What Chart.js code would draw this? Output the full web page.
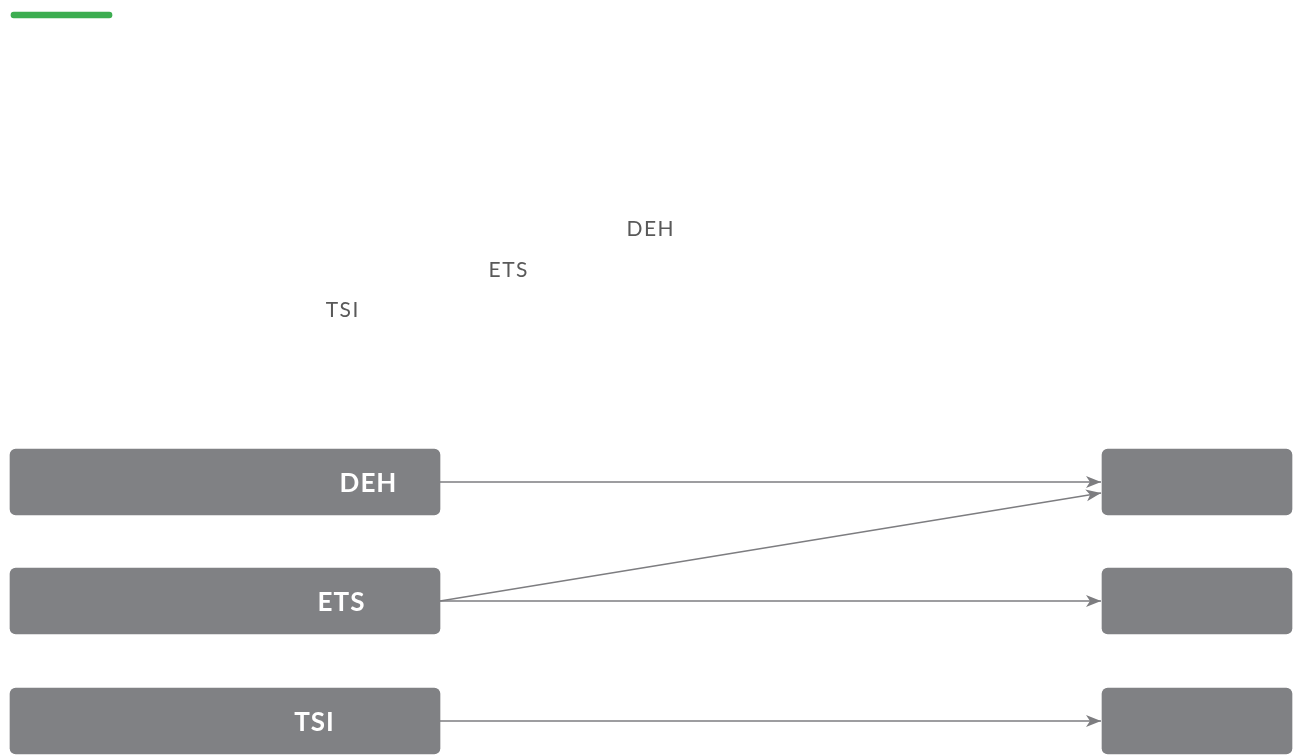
<!DOCTYPE html>
<html>
<head>
<meta charset="utf-8">
<script src="https://cdn.jsdelivr.net/npm/chart.js@4"></script>
<style>
  html, body { margin: 0; padding: 0; background: #fff; }
  #myChart { display: block; }
</style>
</head>
<body>
<canvas id="myChart" width="1293" height="755"></canvas>
<script>
// DATA
const sources = ['DEH', 'ETS', 'TSI'];
const targets = ['', '', ''];
const links = [[0, 0], [1, 0], [1, 1], [2, 2]];   // [source, target]
const markerValues = [650, 508, 342];             // where the name sits on the upper band

// LAYOUT (diagram units, same as the hidden axes)
const layout = {
  accent: { x: [11, 112], y: 15, h: 6 },
  srcX: [10, 440],
  tgtX: [1102, 1292],
  rowY: [482, 601, 721],
  boxH: 66,
  markY: [229, 270, 310],
  srcLabelX: [368, 341, 314],
  portOffset: [0, 11, 0, 0]   // arrival shift on the target box, per link
};

const grey = '#808184';
const lineGrey = '#7d7d80';

const datasets = [
  {
    label: 'accent',
    data: [{ x: layout.accent.x, y: layout.accent.y }],
    backgroundColor: '#3cad50',
    barThickness: layout.accent.h,
    borderRadius: 3,
    borderSkipped: false,
    grouped: false
  },
  {
    label: 'sources',
    data: sources.map((s, i) => ({ x: layout.srcX, y: layout.rowY[i] })),
    backgroundColor: grey,
    barThickness: layout.boxH,
    borderRadius: 6,
    borderSkipped: false,
    grouped: false
  },
  {
    label: 'targets',
    data: targets.map((t, i) => ({ x: layout.tgtX, y: layout.rowY[i] })),
    backgroundColor: grey,
    barThickness: layout.boxH,
    borderRadius: 6,
    borderSkipped: false,
    grouped: false
  }
];

links.forEach(([s, t], k) => {
  datasets.push({
    type: 'line',
    label: 'link' + k,
    data: [
      { x: layout.srcX[1], y: layout.rowY[s] },
      { x: layout.tgtX[0] - 1, y: layout.rowY[t] + layout.portOffset[k] }
    ],
    borderColor: lineGrey,
    borderWidth: 1.4,
    pointRadius: 0,
    fill: false,
    tension: 0
  });
});

// texts and arrow heads
const diagram = {
  id: 'diagram',
  afterDatasetsDraw(chart) {
    const { ctx, scales: { x, y } } = chart;
    ctx.save();

    // arrow heads
    chart.data.datasets.forEach((ds, i) => {
      if (ds.type !== 'line') return;
      const pts = chart.getDatasetMeta(i).data;
      const a = pts[0], b = pts[pts.length - 1];
      const ang = Math.atan2(b.y - a.y, b.x - a.x);
      ctx.save();
      ctx.translate(b.x, b.y);
      ctx.rotate(ang);
      ctx.beginPath();
      ctx.moveTo(0, 0);
      ctx.lineTo(-15, -6);
      ctx.lineTo(-11, 0);
      ctx.lineTo(-15, 6);
      ctx.closePath();
      ctx.fillStyle = lineGrey;
      ctx.fill();
      ctx.restore();
    });

    // names on the boxes
    ctx.fillStyle = '#ffffff';
    ctx.font = 'bold 26px Lato';
    ctx.letterSpacing = '1px';
    ctx.textAlign = 'center';
    ctx.textBaseline = 'middle';
    sources.forEach((s, i) => {
      ctx.fillText(s, x.getPixelForValue(layout.srcLabelX[i]) + 0.5, y.getPixelForValue(layout.rowY[i]) + 1.5);
    });

    // names on the upper band
    ctx.fillStyle = '#595959';
    ctx.font = '21px Lato';
    ctx.letterSpacing = '1.5px';
    sources.forEach((s, i) => {
      ctx.fillText(s, x.getPixelForValue(markerValues[i]) + 0.75, y.getPixelForValue(layout.markY[i]) + 0.5);
    });

    ctx.restore();
  }
};

const ctx = document.getElementById('myChart');

new Chart(ctx, {
  type: 'bar',
  data: { datasets: datasets },
  options: {
    indexAxis: 'y',
    responsive: false,
    animation: false,
    layout: { padding: 0 },
    plugins: {
      legend: { display: false },
      tooltip: { enabled: false }
    },
    scales: {
      x: { type: 'linear', min: 0, max: 1293, display: false, offset: false },
      y: { type: 'linear', min: 0, max: 755, reverse: true, display: false, offset: false }
    }
  },
  plugins: [diagram]
});
</script>
</body>
</html>
